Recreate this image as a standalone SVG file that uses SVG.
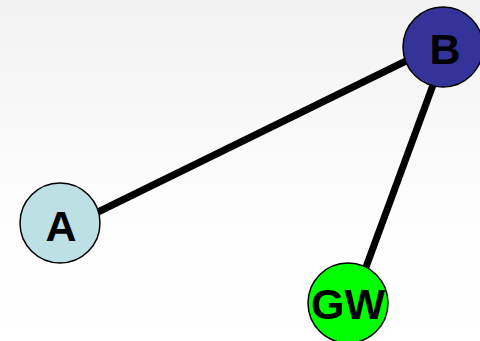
<svg xmlns="http://www.w3.org/2000/svg" width="480" height="341" viewBox="0 0 480 341">
  <defs>
    <linearGradient id="bg" x1="0" y1="0" x2="0" y2="1">
      <stop offset="0" stop-color="#f2f2f2"/>
      <stop offset="0.6" stop-color="#fdfdfd"/>
      <stop offset="1" stop-color="#ffffff"/>
    </linearGradient>
    <style>
      .node { stroke: #000; stroke-width: 1.5; }
      .label { font-family: "Liberation Sans", Arial, sans-serif; font-weight: bold; font-size: 43px; fill: #000; text-anchor: middle; }
      .edge { stroke: #000; stroke-width: 7; fill: none; }
    </style>
  </defs>
  <rect width="480" height="341" fill="url(#bg)"/>
  <g id="connectors">
    <line class="edge" x1="98" y1="212" x2="406" y2="61"/>
    <line class="edge" x1="433" y1="85" x2="366" y2="267"/>
  </g>
  <g id="node-A">
    <circle class="node" cx="60" cy="223" r="40" fill="#bde0e4"/>
    <text class="label" x="61" y="241">A</text>
  </g>
  <g id="node-B">
    <circle class="node" cx="443" cy="47" r="40" fill="#333399"/>
    <text class="label" x="445" y="64">B</text>
  </g>
  <g id="node-GW">
    <circle class="node" cx="348" cy="303" r="40" fill="#00ff00"/>
    <text class="label" x="348" y="319">GW</text>
  </g>
</svg>
